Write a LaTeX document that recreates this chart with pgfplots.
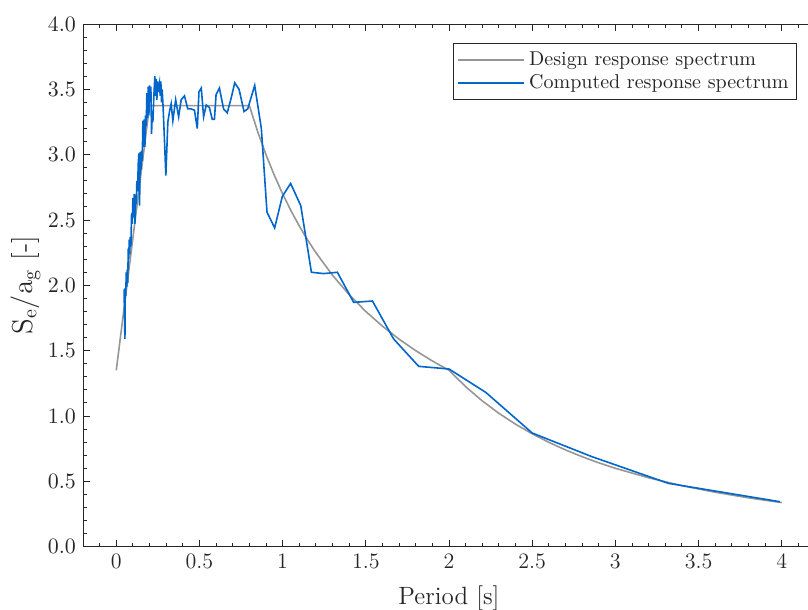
\documentclass[border=0pt]{standalone}
\usepackage{pgfplots}
\pgfplotsset{compat=1.18}
\definecolor{dgray}{RGB}{38,38,38}
\definecolor{spec}{RGB}{150,150,150}
\definecolor{comp}{RGB}{0,102,204}
\begin{document}
\begin{tikzpicture}
\begin{axis}[name=ax,
  scale only axis, width=366pt, height=261.35pt,
  xmin=-0.2, xmax=4.2, ymin=0, ymax=4,
  xtick={0,0.5,1,1.5,2,2.5,3,3.5,4},
  xticklabels={0,0.5,1,1.5,2,2.5,3,3.5,4},
  ytick={0,0.5,...,4},
  yticklabel style={/pgf/number format/.cd,fixed,fixed zerofill,precision=1},
  minor xtick={-0.1,0,0.1,0.2,0.3,0.4,0.5,0.6,0.7,0.8,0.9,1,1.1,1.2,1.3,1.4,1.5,1.6,1.7,1.8,1.9,2,2.1,2.2,2.3,2.4,2.5,2.6,2.7,2.8,2.9,3,3.1,3.2,3.3,3.4,3.5,3.6,3.7,3.8,3.9,4,4.1},
  minor ytick={0.1,0.2,0.3,0.4,0.6,0.7,0.8,0.9,1.1,1.2,1.3,1.4,1.6,1.7,1.8,1.9,2.1,2.2,2.3,2.4,2.6,2.7,2.8,2.9,3.1,3.2,3.3,3.4,3.6,3.7,3.8,3.9},
  tick align=inside,
  major tick length=3.5pt, minor tick length=2pt,
  every tick/.style={dgray, line width=0.5pt},
  axis line style={dgray, line width=0.5pt},
  tick label style={font=\fontsize{11}{13}\selectfont, text=dgray},
  xlabel style={font=\fontsize{12.5}{14}\selectfont, text=dgray, yshift=-1.5pt},
  ylabel style={font=\fontsize{14}{16}\selectfont, text=dgray, yshift=-3pt},
  xlabel={Period [s]},
  ylabel={$\mathrm{S_e/a_g}$ [-]},
  legend style={at={(rel axis cs:1,1)}, anchor=north east, xshift=-9pt, yshift=-9.5pt,
    draw=dgray, line width=0.5pt, font=\fontsize{10}{12}\selectfont, text=dgray,
    row sep=-1pt, inner sep=2pt, cells={anchor=west}},
  legend image code/.code={\draw[#1] (0pt,0pt) -- (33pt,0pt);},
  clip=false,
]
\addplot[spec, line width=0.8pt] coordinates {
(0,1.35) (0.2,3.375) (0.8,3.375) (0.85,3.1765) (0.9,3.0) (0.95,2.8421) (1.0,2.7)
(1.05,2.5714) (1.1,2.4545) (1.15,2.3478) (1.2,2.25) (1.3,2.0769) (1.4,1.9286) (1.5,1.8) (1.6,1.6875)
(1.7,1.5882) (1.8,1.5) (1.9,1.4211) (2.0,1.35) (2.1,1.2245) (2.2,1.1157) (2.3,1.0208)
(2.4,0.9375) (2.5,0.864) (2.6,0.7988) (2.7,0.7407) (2.8,0.6888) (2.9,0.6421) (3.0,0.6)
(3.2,0.5273) (3.4,0.4671) (3.6,0.4167) (3.8,0.3740) (4.0,0.3375)
};
\addlegendentry{Design response spectrum}
\addplot[comp, line width=0.8pt] coordinates {
(0.047,1.97) (0.050,1.72) (0.052,1.59) (0.054,1.98) (0.057,1.92) (0.060,2.10) (0.063,1.99)
(0.066,2.12) (0.069,2.02) (0.072,2.28) (0.075,2.20) (0.078,2.35) (0.081,2.24) (0.084,2.37)
(0.088,2.30) (0.092,2.55) (0.096,2.47) (0.100,2.67) (0.104,2.52) (0.108,2.70) (0.112,2.47)
(0.116,2.69) (0.120,2.62) (0.124,2.80) (0.128,2.72) (0.132,2.93) (0.136,3.01) (0.140,2.61)
(0.144,3.02) (0.148,2.88) (0.152,3.03) (0.156,2.95) (0.160,3.26) (0.164,3.06) (0.168,3.27)
(0.172,3.06) (0.176,3.30) (0.180,3.22) (0.184,3.47) (0.188,3.28) (0.192,3.52) (0.196,3.30)
(0.200,3.53) (0.204,3.40) (0.208,3.52) (0.212,3.16) (0.216,3.30) (0.220,3.25) (0.226,3.45)
(0.232,3.60) (0.236,3.45) (0.240,3.58) (0.244,3.42) (0.248,3.56) (0.252,3.48) (0.256,3.52)
(0.260,3.55) (0.264,3.45) (0.268,3.56) (0.272,3.40) (0.276,3.50) (0.282,3.35) (0.290,3.10)
(0.298,2.84) (0.310,3.25) (0.320,3.33) (0.330,3.39) (0.340,3.26) (0.357,3.42) (0.375,3.29)
(0.390,3.42) (0.410,3.45) (0.430,3.35) (0.450,3.35) (0.470,3.34) (0.487,3.20) (0.497,3.48)
(0.511,3.51) (0.525,3.29) (0.541,3.38) (0.560,3.36) (0.577,3.27) (0.590,3.27) (0.600,3.46)
(0.620,3.51) (0.645,3.35) (0.667,3.32) (0.690,3.43) (0.712,3.55) (0.738,3.50) (0.768,3.33)
(0.790,3.35) (0.832,3.53) (0.872,3.20) (0.906,2.56) (0.952,2.44) (0.998,2.68) (1.048,2.78)
(1.109,2.61) (1.173,2.10) (1.247,2.09) (1.329,2.10) (1.427,1.87) (1.540,1.88) (1.667,1.59)
(1.818,1.38) (2.000,1.36) (2.222,1.18) (2.500,0.87) (2.857,0.69) (3.318,0.485) (3.990,0.344)
};
\addlegendentry{Computed response spectrum}
\end{axis}
\pgfresetboundingbox
\path[use as bounding box] (ax.south west) ++(-41.5pt,-31.65pt) rectangle ++(404pt,305pt);
\end{tikzpicture}
\end{document}
